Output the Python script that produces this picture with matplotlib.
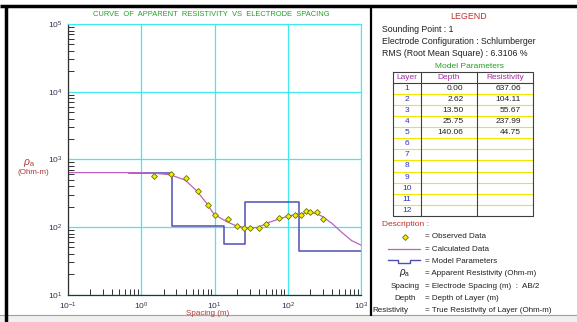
import numpy as np
import matplotlib
matplotlib.use("Agg")
import matplotlib.pyplot as plt
from matplotlib.ticker import LogLocator, NullFormatter

plt.rcParams["font.family"] = ["Liberation Sans", "DejaVu Sans"]
plt.rcParams["mathtext.fontset"] = "custom"
plt.rcParams["mathtext.rm"] = "Liberation Sans"
plt.rcParams["mathtext.it"] = "Liberation Sans:italic"

# observed sounding data (AB/2 in m, apparent resistivity in Ohm-m)
obs_spacing = [1.5, 2.5, 4, 6, 8, 10, 15, 20, 25, 30, 40, 50, 75, 100, 125, 150, 175, 200, 250, 300]
obs_rho = [561, 614, 525, 337, 211, 150, 131, 102, 98, 95.5, 98, 112, 137, 145, 149, 152, 170, 165, 165, 133]

# calculated curve
calc_spacing = [0.1, 0.5, 1.0, 1.53, 2.45, 3.93, 5.67, 7.77, 9.8, 14.6, 20, 26, 28.8, 39.5,
                54, 74, 101, 139, 190, 235, 290, 397, 545, 746, 1000]
calc_rho = [637, 637, 636, 622, 593, 495, 344, 224, 154, 120, 103, 98, 95.7, 99,
            116, 130, 145, 156, 163, 160, 145, 114, 83.6, 62.8, 54]

# layered model
layer_ids = list(range(1, 13))
layer_depth = [0.00, 2.62, 13.50, 25.75, 140.06]
layer_res = [637.06, 104.11, 55.67, 237.99, 44.75]
model_start = 0.67
model_end = 1000

sounding_point = "1"
config = "Schlumberger"
rms = "6.3106"

W, H = 577, 322
fig = plt.figure(figsize=(W / 100, H / 100), dpi=100)
fig.patch.set_facecolor("white")

# overlay in pixel coordinates for frame + legend panel
ov = fig.add_axes([0, 0, 1, 1])
ov.set_xlim(0, W)
ov.set_ylim(H, 0)
ov.axis("off")

ov.add_patch(plt.Rectangle((0, 315), W, 7, color="#f0f0f0", lw=0))
ov.plot([0, W], [315, 315], color="#a0a0a0", lw=0.8)
ov.plot([0, W], [5.5, 5.5], color="black", lw=2.5, solid_capstyle="butt")
ov.plot([5.5, 5.5], [5, H], color="black", lw=2.5, solid_capstyle="butt")
ov.plot([370.5, 370.5], [5, 316], color="black", lw=1.6, solid_capstyle="butt")

fs = 6.0
txt = "#202020"
ov.text(211, 14, "CURVE  OF  APPARENT  RESISTIVITY  VS  ELECTRODE  SPACING", color="#22a022",
        fontsize=5.4, ha="center", va="center")
ov.text(29, 163, r"$\rho_{\rm a}$", color="#b03838", fontsize=7.5, ha="center", va="center")
ov.text(33, 172, "(Ohm-m)", color="#b03838", fontsize=5.8, ha="center", va="center")
ov.text(208, 313.5, "Spacing (m)", color="#b03838", fontsize=5.8, ha="center", va="center")

# legend panel text
ov.text(469, 16, "LEGEND", color="#c03030", fontsize=6.4, ha="center", va="center")
ov.text(382, 29, f"Sounding Point : {sounding_point}", color=txt, fontsize=6.3, va="center")
ov.text(382, 41.7, f"Electrode Configuration : {config}", color=txt, fontsize=6.3, va="center")
ov.text(382, 53.3, f"RMS (Root Mean Square) : {rms} %", color=txt, fontsize=6.3, va="center")
ov.text(469, 66, "Model Parameters", color="#22a022", fontsize=6.0, ha="center", va="center")

# model parameter table
tl, c1, c2, tr = 392.7, 420.7, 477.3, 533
ttop, hbot, rh = 72.3, 82.7, 11.1
tbot = hbot + rh * len(layer_ids)
for i in range(1, len(layer_ids)):
    yy = hbot + rh * i
    ov.plot([tl, tr], [yy, yy], color="#f0e800", lw=0.8)
ov.plot([tl, tr], [hbot, hbot], color="#404040", lw=0.8)
ov.plot([tl, tr, tr, tl, tl], [ttop, ttop, tbot, tbot, ttop], color="#404040", lw=0.8)
ov.plot([c1, c1], [ttop, tbot], color="#404040", lw=0.8)
ov.plot([c2, c2], [ttop, tbot], color="#404040", lw=0.8)
hc = "#a030a0"
ov.text((tl + c1) / 2, (ttop + hbot) / 2, "Layer", color=hc, fontsize=fs, ha="center", va="center")
ov.text((c1 + c2) / 2, (ttop + hbot) / 2, "Depth", color=hc, fontsize=fs, ha="center", va="center")
ov.text((c2 + tr) / 2, (ttop + hbot) / 2, "Resistivity", color=hc, fontsize=fs, ha="center", va="center")
for i, lid in enumerate(layer_ids):
    yc = hbot + rh * (i + 0.5)
    ov.text((tl + c1) / 2, yc, str(lid), color="#3030c0", fontsize=fs, ha="center", va="center")
    if i < len(layer_depth):
        ov.text(463.5, yc, f"{layer_depth[i]:.2f}", color=txt, fontsize=fs, ha="right", va="center")
        ov.text(521, yc, f"{layer_res[i]:.2f}", color=txt, fontsize=fs, ha="right", va="center")

# description
ov.text(382, 224.3, "Description :", color="#c03030", fontsize=6.0, va="center")
ov.plot([405], [236.7], "D", ms=3, mfc="#f0f000", mec="#707000", mew=0.6)
ov.plot([388, 420], [249.3, 249.3], color="#c060c0", lw=0.9)
ov.plot([388, 398, 398, 410, 410, 420], [260.3, 260.3, 262.7, 262.7, 260.3, 260.3],
        color="#5050b0", lw=1.0)
ov.text(405, 273.3, r"$\rho_{\rm a}$", color=txt, fontsize=7, ha="center", va="center")
ov.text(405, 286, "Spacing", color=txt, fontsize=5.8, ha="center", va="center")
ov.text(405, 298.3, "Depth", color=txt, fontsize=5.8, ha="center", va="center")
ov.text(390.5, 310.7, "Resistivity", color=txt, fontsize=5.8, ha="center", va="center")
desc = ["Observed Data", "Calculated Data", "Model Parameters",
        "Apparent Resistivity (Ohm-m)", "Electrode Spacing (m)  :  AB/2",
        "Depth of Layer (m)", "True Resistivity of Layer (Ohm-m)"]
for k, d in enumerate(desc):
    ov.text(425, 236.7 + 12.33 * k, "= " + d, color=txt, fontsize=5.8, va="center")

# main plot
x0, x1, y0, y1 = 68.33, 361, 24, 294.67
ax = fig.add_axes([x0 / W, 1 - y1 / H, (x1 - x0) / W, (y1 - y0) / H])
ax.set_xscale("log")
ax.set_yscale("log")
ax.set_xlim(0.1, 1000)
ax.set_ylim(10, 1e5)
ax.grid(True, which="major", color="#40e8f0", lw=0.9)
ax.spines["top"].set_color("#40e8f0")
ax.spines["right"].set_color("#40e8f0")
for s in ["left", "bottom"]:
    ax.spines[s].set_color("#303030")
    ax.spines[s].set_linewidth(0.9)
ax.xaxis.set_minor_locator(LogLocator(base=10, subs=np.arange(2, 10)))
ax.yaxis.set_minor_locator(LogLocator(base=10, subs=np.arange(2, 10)))
ax.xaxis.set_minor_formatter(NullFormatter())
ax.yaxis.set_minor_formatter(NullFormatter())
ax.tick_params(which="major", length=0, labelsize=6.0, labelcolor="#303050", pad=4)
ax.tick_params(which="minor", direction="in", length=4, width=0.7, color="#303030")
ax.tick_params(axis="x", which="both", top=False)
ax.tick_params(axis="y", which="both", right=False)

# model step line
edges = [model_start] + layer_depth[1:] + [model_end]
mx, my = [], []
for i, r in enumerate(layer_res):
    mx += [edges[i], edges[i + 1]]
    my += [r, r]
ax.plot(mx, my, color="#5050b0", lw=1.1)
ax.plot(calc_spacing, calc_rho, color="#c060c0", lw=0.9)
ax.plot(obs_spacing, obs_rho, "D", ms=3, mfc="#f0f000", mec="#707000", mew=0.6, ls="none")

fig.savefig("out.png", dpi=100)
